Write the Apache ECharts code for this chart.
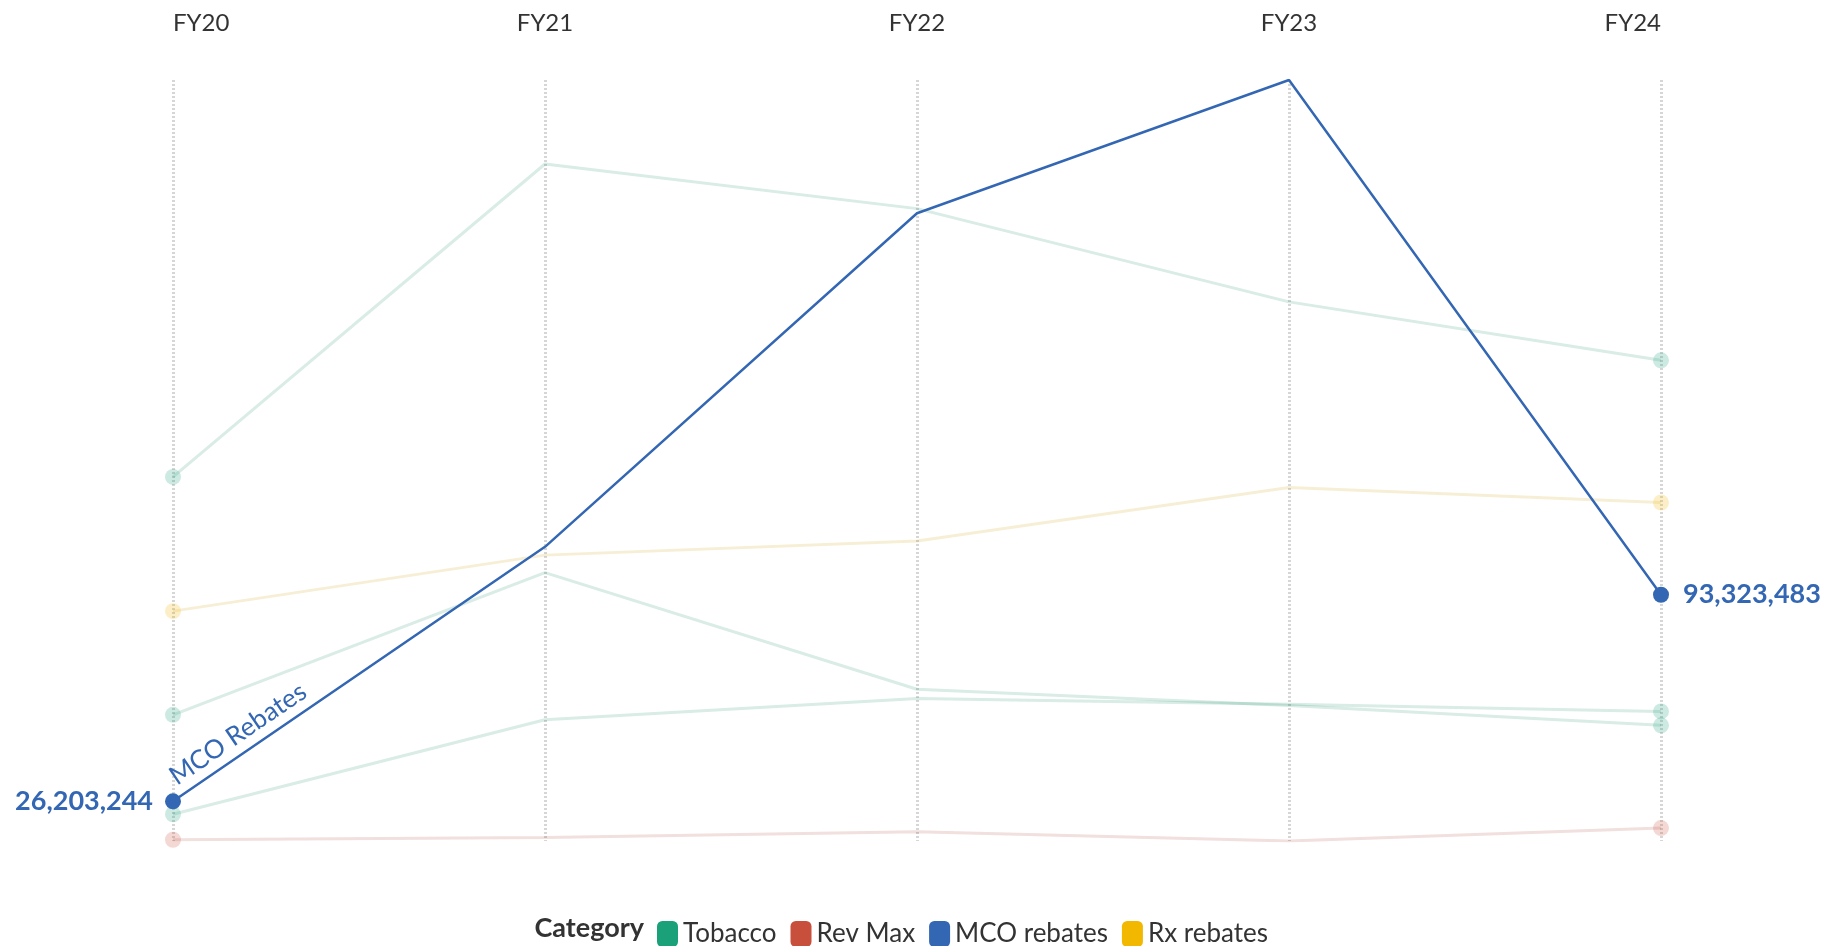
<!DOCTYPE html>
<html>
<head>
<meta charset="utf-8">
<script src="https://cdn.jsdelivr.net/npm/echarts@6/dist/echarts.min.js"></script>
<style>
    html, body { margin: 0; padding: 0; background: #fff; }
    #chart { width: 1832px; height: 946px; }
</style>
</head>
<body>
<div id="chart"></div>
<script>
// 财年
const categories = ['FY20', 'FY21', 'FY22', 'FY23', 'FY24']
// 三条烟草线（淡色）
const tobaccoA = [131600000, 233300000, 218800000, 188500000, 169500000]
const tobaccoB = [54300000, 100500000, 62600000, 57300000, 50900000]
const tobaccoC = [22000000, 52700000, 59600000, 57700000, 55400000]
const revMax = [13700000, 14400000, 16300000, 13300000, 17500000]
const mcoRebates = [26203244, 108900000, 217300000, 260600000, 93323483]
const rxRebates = [88000000, 106200000, 110800000, 128200000, 123300000]

const legendNames = ['Tobacco', 'Rev Max', 'MCO rebates', 'Rx rebates']
const colors = {
    'Tobacco': '#1aa17a',
    'Rev Max': '#c94f3d',
    'MCO rebates': '#3467b3',
    'Rx rebates': '#f2b800'
}

const FONT = 'Lato, "Noto Sans", sans-serif'

// 只在首尾两个点画圆点
function endSymbol(val, params) {
    return params.dataIndex === 0 || params.dataIndex === categories.length - 1 ? 16 : 0
}

function fadedSeries(name, data) {
    return {
        name: name,
        type: 'line',
        data: data,
        color: colors[name],
        symbol: 'circle',
        symbolSize: endSymbol,
        lineStyle: {
            width: 3,
            opacity: 0.14,
            shadowColor: 'rgba(0,0,0,0.25)',
            shadowBlur: 1
        },
        itemStyle: { opacity: 0.22 },
        emphasis: { disabled: true },
        z: 2
    }
}

// 蓝线首尾显示数值
const mcoData = mcoRebates.map((v, i) => {
    if (i === 0) {
        return { value: v, label: { show: true, position: 'left', distance: 12 } }
    }
    if (i === mcoRebates.length - 1) {
        return { value: v, label: { show: true, position: 'right', distance: 14 } }
    }
    return v
})

const chart = echarts.init(document.getElementById('chart'))

const option = {
    animation: false,
    textStyle: { fontFamily: FONT },
    grid: {
        left: 173,
        right: 171,
        top: 80,
        bottom: 105
    },
    xAxis: {
        type: 'category',
        position: 'top',
        boundaryGap: false,
        data: categories,
        axisLine: { show: false },
        axisTick: { show: false },
        axisLabel: {
            fontSize: 24,
            color: '#333',
            fontFamily: FONT,
            margin: 45,
            alignMinLabel: 'left',
            alignMaxLabel: 'right'
        },
        splitLine: {
            show: true,
            interval: 0,
            lineStyle: { color: '#d6d6d6', width: 3, type: [2, 2] }
        }
    },
    yAxis: {
        type: 'value',
        show: false,
        min: 'dataMin',
        max: 'dataMax',
        splitLine: { show: false }
    },
    legend: {
        left: 652,
        top: 916,
        itemWidth: 21,
        itemHeight: 26,
        itemGap: 14,
        icon: 'roundRect',
        selectedMode: false,
        textStyle: { fontSize: 26, color: '#333', fontFamily: FONT },
        data: legendNames.map(n => ({ name: n, itemStyle: { color: colors[n], opacity: 1 } }))
    },
    series: [
        fadedSeries('Tobacco', tobaccoA),
        fadedSeries('Tobacco', tobaccoB),
        fadedSeries('Tobacco', tobaccoC),
        fadedSeries('Rev Max', revMax),
        fadedSeries('Rx rebates', rxRebates),
        {
            name: 'MCO rebates',
            type: 'line',
            data: mcoData,
            color: colors['MCO rebates'],
            symbol: 'circle',
            symbolSize: endSymbol,
            lineStyle: { width: 2.5 },
            label: {
                show: false,
                fontSize: 27,
                fontWeight: 'bold',
                color: colors['MCO rebates'],
                fontFamily: FONT,
                formatter: p => p.value.toLocaleString('en-US')
            },
            emphasis: { disabled: true },
            z: 5
        }
    ]
}
chart.setOption(option)

// 沿着第一段蓝线写系列名
const p0 = chart.convertToPixel({ gridIndex: 0 }, [0, mcoRebates[0]])
const p1 = chart.convertToPixel({ gridIndex: 0 }, [1, mcoRebates[1]])
const angle = Math.atan2(p0[1] - p1[1], p1[0] - p0[0])
const along = 12, up = 6
chart.setOption({
    graphic: [
        {
            type: 'text',
            x: p0[0] + along * Math.cos(angle) - up * Math.sin(angle),
            y: p0[1] - along * Math.sin(angle) - up * Math.cos(angle),
            rotation: angle,
            style: {
                text: 'MCO Rebates',
                fill: colors['MCO rebates'],
                font: '26px ' + FONT,
                align: 'left',
                verticalAlign: 'bottom'
            }
        },
        {
            type: 'text',
            right: 1832 - 644,
            top: 915,
            style: {
                text: 'Category',
                fill: '#333',
                font: 'bold 27px ' + FONT
            }
        }
    ]
})
</script>
</body>
</html>
